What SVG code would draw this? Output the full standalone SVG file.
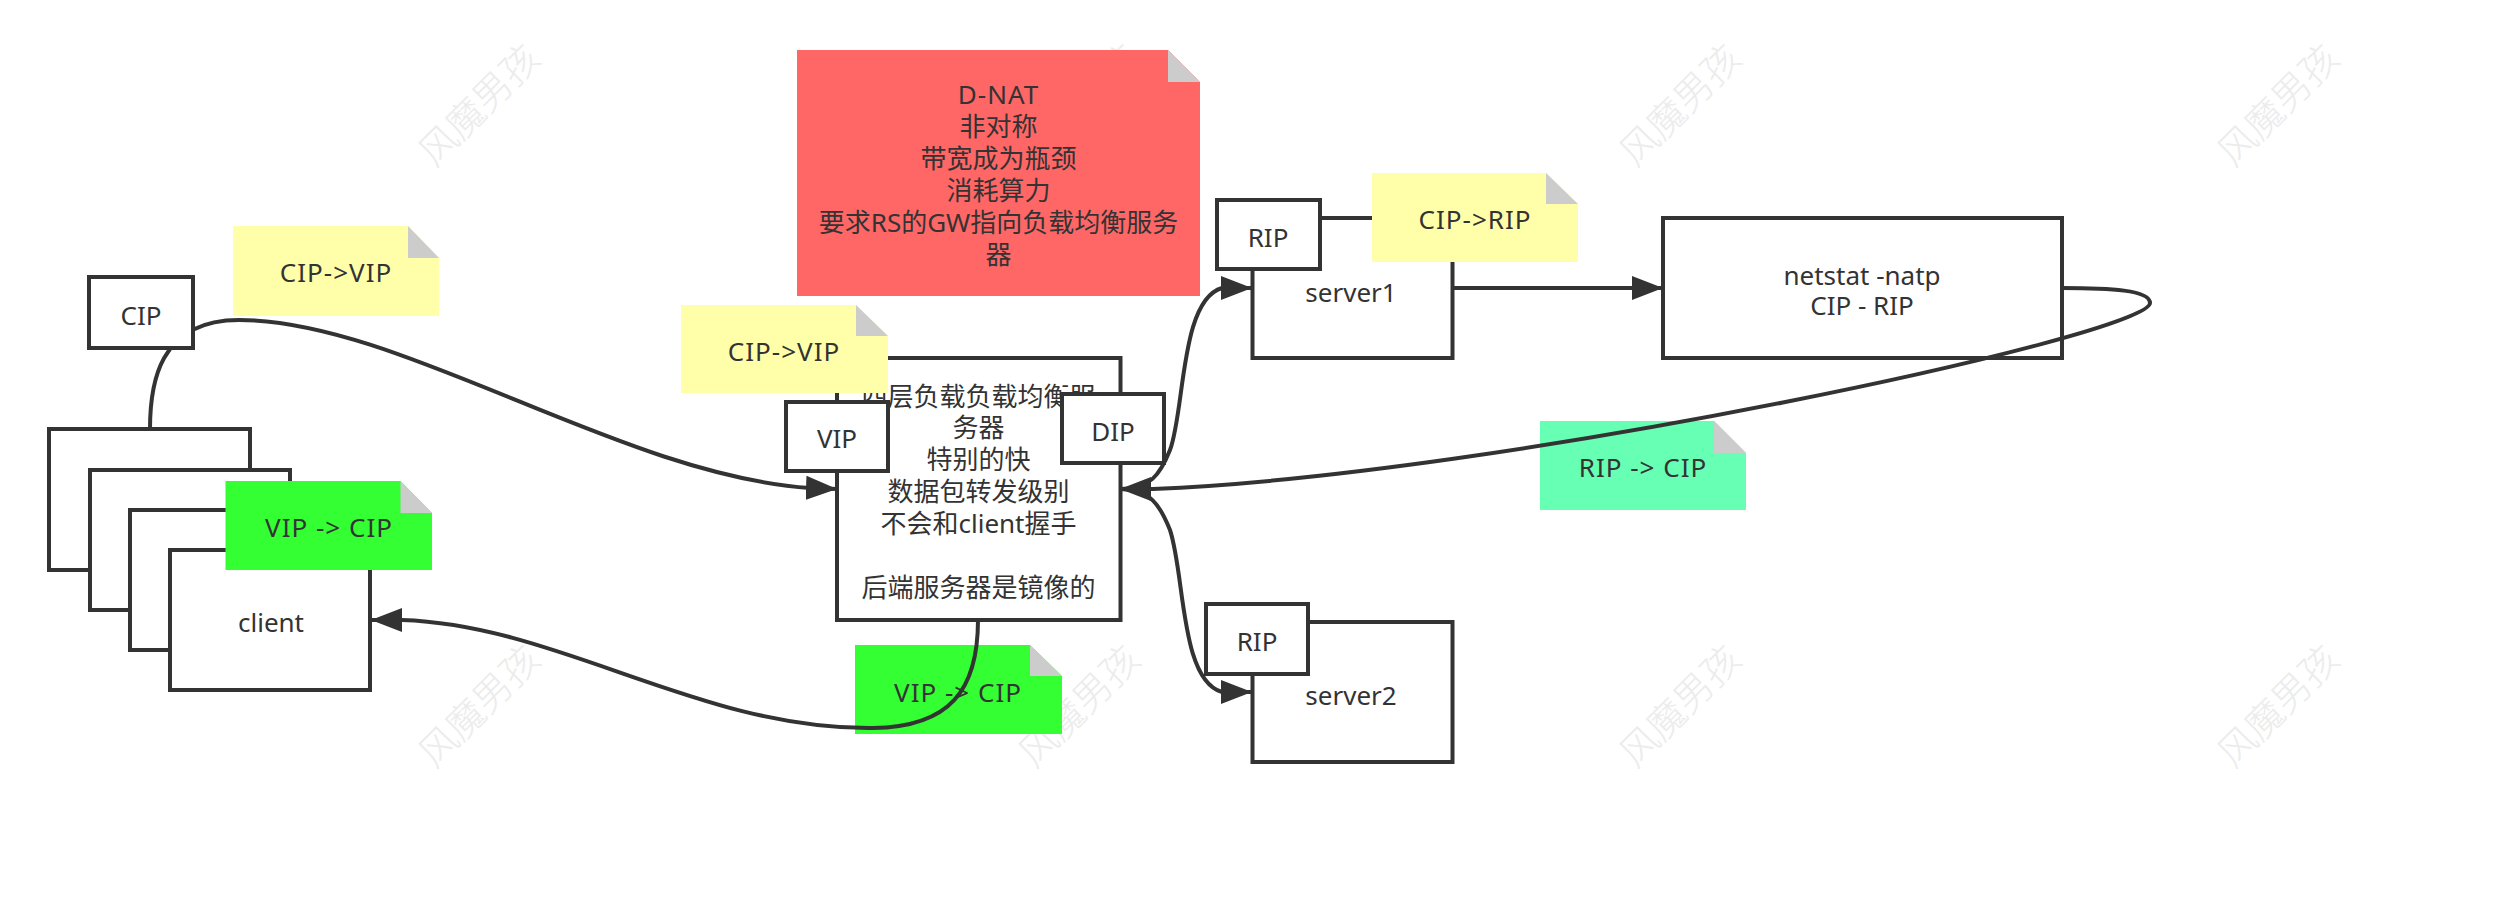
<svg xmlns="http://www.w3.org/2000/svg" width="2496" height="914" viewBox="0 0 2496 914">
<style>
text{font-family:"Noto Sans","Noto Sans CJK SC",sans-serif;font-size:26px;fill:#333;text-anchor:middle;dominant-baseline:central}
.ls{letter-spacing:1px}
.box{fill:#fff;stroke:#333;stroke-width:4}
.fold{fill:#ccc}
.y{fill:#ffa}.g{fill:#3f3}.m{fill:#66ffb3}.r{fill:#f66}
.wm{font-size:38px;fill:#ececec;font-weight:300}
.c{fill:none;stroke:#333;stroke-width:4}
</style>
<defs>
<marker id="ah" markerUnits="userSpaceOnUse" markerWidth="32" markerHeight="26" refX="31" refY="13" orient="auto"><path d="M0 1L31 13L0 25Z" fill="#333"/></marker>
</defs>
<rect width="2496" height="914" fill="#fff"/>
<g id="watermarks">
<text class="wm" transform="translate(478 104) rotate(-45)">风魔男孩</text>
<text class="wm" transform="translate(1078 104) rotate(-45)">风魔男孩</text>
<text class="wm" transform="translate(1679 104) rotate(-45)">风魔男孩</text>
<text class="wm" transform="translate(2277 104) rotate(-45)">风魔男孩</text>
<text class="wm" transform="translate(478 705) rotate(-45)">风魔男孩</text>
<text class="wm" transform="translate(1078 705) rotate(-45)">风魔男孩</text>
<text class="wm" transform="translate(1679 705) rotate(-45)">风魔男孩</text>
<text class="wm" transform="translate(2277 705) rotate(-45)">风魔男孩</text>
</g>
<g id="client-stack">
<rect class="box" x="49" y="429" width="201" height="141"/>
<rect class="box" x="90" y="470" width="200" height="140"/>
<rect class="box" x="130" y="510" width="200" height="140"/>
<rect class="box" x="170" y="550" width="200" height="140"/>
<text x="271" y="622">client</text>
</g>
<g id="note-cip-vip-1"><path class="y" d="M233 226H408L439 258V316H233Z"/><path class="fold" d="M408 226L439 258H408Z"/><text class="ls" x="336" y="272">CIP-&gt;VIP</text></g>
<g id="note-vip-cip-1"><path class="g" d="M225.500 481H400.500L432 513V570H225.500Z"/><path class="fold" d="M400.500 481L432 513H400.500Z"/><text class="ls" x="329" y="527">VIP -&gt; CIP</text></g>
<g id="note-dnat"><path class="r" d="M797 50H1168L1200 82V296H797Z"/><path class="fold" d="M1168 50L1200 82H1168Z"/>
<text class="ls" x="998.500" y="94">D-NAT</text><text x="998.500" y="126">非对称</text><text x="998.500" y="158">带宽成为瓶颈</text><text x="998.500" y="190">消耗算力</text><text x="998.500" y="222">要求RS的GW指向负载均衡服务</text><text x="998.500" y="254">器</text></g>
<g id="lb">
<rect class="box" x="837" y="358" width="283.500" height="262"/>
<text x="978.500" y="396">四层负载负载均衡服</text><text x="978.500" y="427">务器</text><text x="978.500" y="459">特别的快</text><text x="978.500" y="491">数据包转发级别</text><text x="978.500" y="523">不会和client握手</text><text x="978.500" y="587">后端服务器是镜像的</text>
</g>
<g id="note-cip-vip-2"><path class="y" d="M681 305H856L888 336V393H681Z"/><path class="fold" d="M856 305L888 336H856Z"/><text class="ls" x="784" y="351">CIP-&gt;VIP</text></g>
<g id="vip"><rect class="box" x="786" y="402" width="102" height="69"/><text x="837" y="438">VIP</text></g>
<g id="dip"><rect class="box" x="1062" y="394" width="102" height="69"/><text x="1113" y="431">DIP</text></g>
<g id="note-vip-cip-2"><path class="g" d="M855 645H1030L1062 676V734H855Z"/><path class="fold" d="M1030 645L1062 676H1030Z"/><text class="ls" x="958" y="692">VIP -&gt; CIP</text></g>
<g id="server1"><rect class="box" x="1252.500" y="218" width="200" height="140"/><text x="1351" y="292">server1</text></g>
<g id="rip1"><rect class="box" x="1217" y="200" width="103" height="69"/><text x="1268" y="237">RIP</text></g>
<g id="note-cip-rip"><path class="y" d="M1372 173H1546L1578 204V262H1372Z"/><path class="fold" d="M1546 173L1578 204H1546Z"/><text class="ls" x="1475" y="219">CIP-&gt;RIP</text></g>
<g id="netstat"><rect class="box" x="1663" y="218" width="399" height="140"/><text x="1862" y="275">netstat -natp</text><text x="1862" y="305">CIP - RIP</text></g>
<g id="server2"><rect class="box" x="1252.500" y="622" width="200" height="140"/><text x="1351" y="695">server2</text></g>
<g id="note-rip-cip"><path class="m" d="M1540 421H1714L1746 453V510H1540Z"/><path class="fold" d="M1714 421L1746 453H1714Z"/><text class="ls" x="1643" y="467">RIP -&gt; CIP</text></g>
<g id="connectors">
<path class="c" marker-end="url(#ah)" d="M150 429C150 385 158 320 239 320C400 320 620 475 810 488L837 489"/>
<path class="c" marker-end="url(#ah)" d="M978 620C978 690 950 727 873 728C700 730 560 625 402 620L371 620"/>
<path class="c" marker-end="url(#ah)" d="M1120 489C1150 489 1160 475 1170 450C1185 410 1180 300 1222 288L1252 288"/>
<path class="c" marker-end="url(#ah)" d="M1120 489C1150 489 1160 505 1170 530C1185 575 1180 680 1222 692L1252 692"/>
<path class="c" marker-end="url(#ah)" d="M1452 288H1663"/>
<path class="c" marker-end="url(#ah)" d="M2062 288C2110 288 2150 290 2150 303C2150 335 1500 475 1153 489L1120 489"/>
</g>
<g id="cip"><rect class="box" x="89" y="277" width="104" height="71"/><text x="141" y="315">CIP</text></g>
<g id="rip2"><rect class="box" x="1206" y="604" width="102" height="70"/><text x="1257" y="641">RIP</text></g>
</svg>
